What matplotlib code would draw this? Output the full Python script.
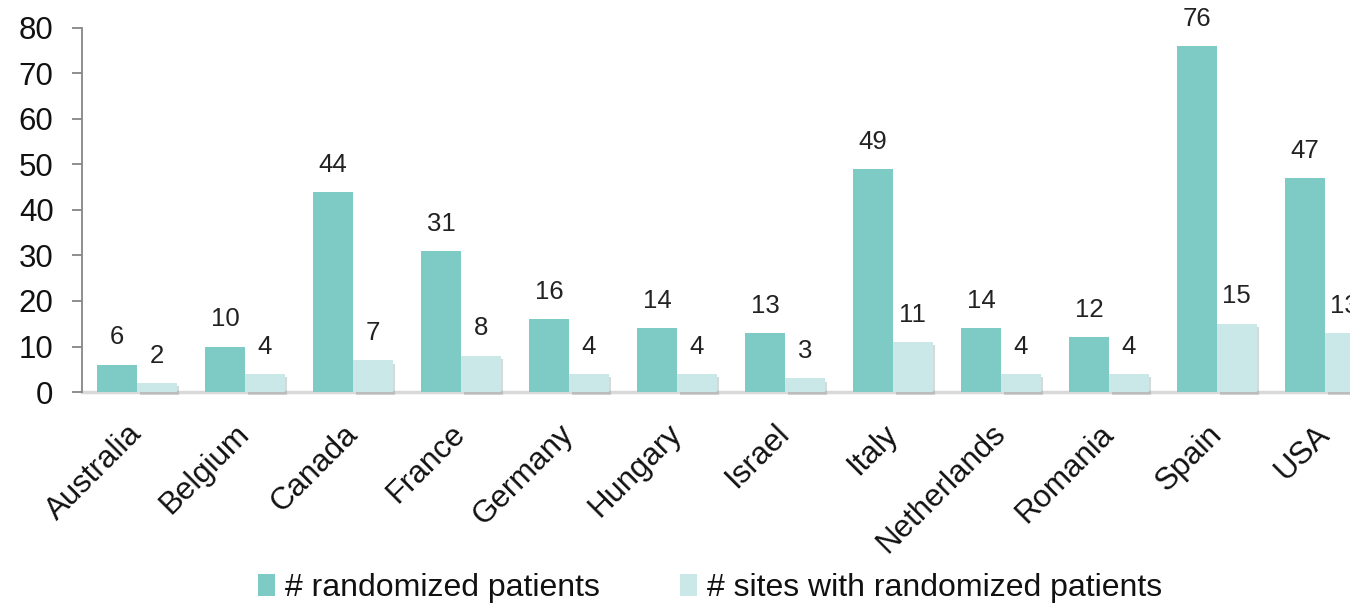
import matplotlib
matplotlib.use("Agg")
import matplotlib.pyplot as plt
import matplotlib.patheffects as pe
from matplotlib.patches import Patch
import numpy as np

countries = ["Australia", "Belgium", "Canada", "France", "Germany", "Hungary",
             "Israel", "Italy", "Netherlands", "Romania", "Spain", "USA"]
patients = [6, 10, 44, 31, 16, 14, 13, 49, 14, 12, 76, 47]
sites = [2, 4, 7, 8, 4, 4, 3, 11, 4, 4, 15, 13]
series_names = ["# randomized patients", "# sites with randomized patients"]
yticks = [0, 10, 20, 30, 40, 50, 60, 70, 80]

DARK = "#7ECAC5"
LIGHT = "#CBE8E8"

plt.rcParams['font.family'] = ['Liberation Sans', 'DejaVu Sans']

fig = plt.figure(figsize=(13.5, 6.06), dpi=100)
ax = fig.add_axes([82/1350, (606-392)/606, 1 - 82/1350, (392-28)/606])

x = np.arange(len(countries))
w = 0.366
b1 = ax.bar(x - w/2, patients, width=w, color=DARK, label=series_names[0],
            zorder=3, clip_on=False)
b2 = ax.bar(x + w/2, sites, width=w, color=LIGHT, label=series_names[1],
            zorder=2, clip_on=False)
for r in b2:
    r.set_path_effects([pe.SimplePatchShadow(offset=(2, -2.5), shadow_rgbFace="#666666", alpha=0.25),
                        pe.Normal()])

for bars, vals in ((b1, patients), (b2, sites)):
    for r, v in zip(bars, vals):
        ax.annotate(f"{v}", (r.get_x() + r.get_width()/2, v), xytext=(0, 11),
                    textcoords="offset points", ha="center", va="bottom",
                    fontsize=18.5, color="#222222", annotation_clip=False)

ax.set_xlim((82-137)/108, (1350-137)/108)
ax.set_ylim(0, 80)
ax.set_yticks(yticks)
ax.tick_params(axis="y", length=7.5, width=1.3, color="#868686", pad=13,
               labelsize=22.5, labelcolor="#111111")
ax.set_xticks(x)
ax.set_xticklabels(countries, rotation=45, ha="right", va="center",
                   rotation_mode="anchor", fontsize=22.5, color="#111111")
ax.tick_params(axis="x", length=0, pad=27)

for s in ("top", "right"):
    ax.spines[s].set_visible(False)
ax.spines["left"].set_color("#868686")
ax.spines["left"].set_linewidth(1.3)
ax.spines["bottom"].set_color("#D9D9D9")
ax.spines["bottom"].set_linewidth(2.5)
ax.spines["bottom"].set_zorder(1)

handles = [Patch(facecolor=DARK, edgecolor="none"), Patch(facecolor=LIGHT, edgecolor="none")]
leg = fig.legend(handles=handles, labels=series_names, loc="center",
                 bbox_to_anchor=(710/1350, (606-588)/606), ncol=2, frameon=False,
                 fontsize=23, handlelength=0.55, handleheight=0.7,
                 handletextpad=0.3, columnspacing=2.5)
for t in leg.get_texts():
    t.set_color("#111111")

fig.savefig("out.png", dpi=100)
